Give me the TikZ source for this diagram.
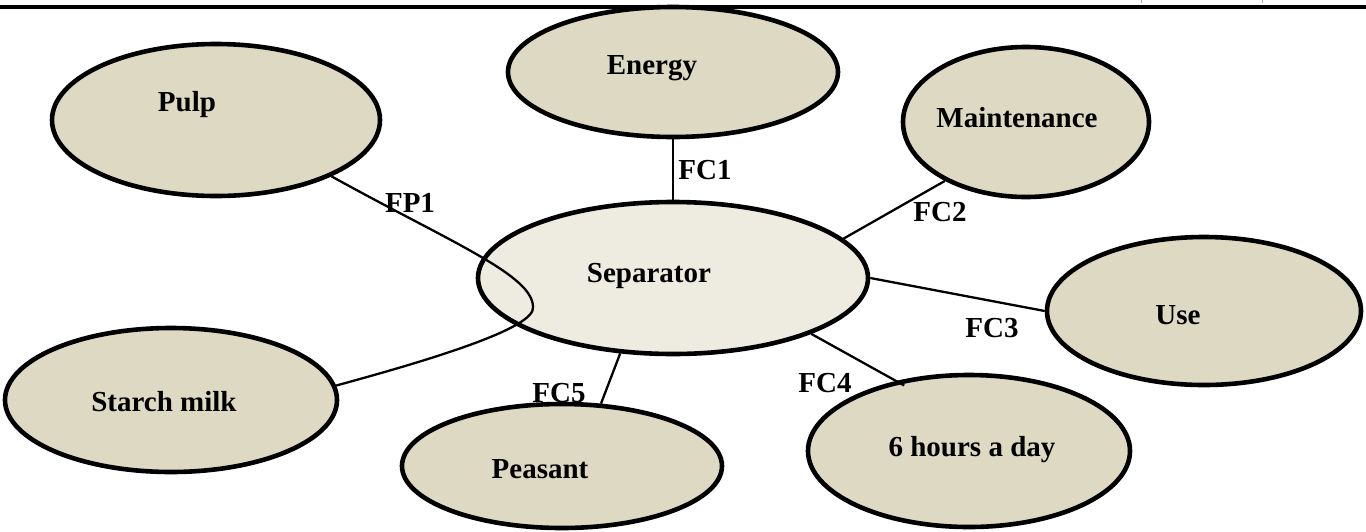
\documentclass[tikz,border=0pt]{standalone}
\usepackage{fontspec}
\setmainfont{Liberation Serif}
\usetikzlibrary{shapes.geometric,calc}
\definecolor{bubblefill}{HTML}{DDD9C3}
\definecolor{centerfill}{HTML}{EEECE1}
\begin{document}
\begin{tikzpicture}[x=0.5pt,y=-0.5pt,
  bubble/.style={ellipse,draw=black,line width=2.3pt,fill=bubblefill,inner sep=0pt},
  lbl/.style={font=\fontsize{14.5}{17}\selectfont\bfseries,inner sep=0pt},
  link/.style={line width=1.15pt}]
\useasboundingbox (0,0) rectangle (1366,531);
% top rule
\coordinate (ruleL) at (0,6.8);
\coordinate (ruleR) at (1366,6.8);
\draw[line width=1.75pt] (ruleL) -- (ruleR);
\coordinate (tickA) at (1141,0);
\coordinate (tickB) at (1262,0);
\draw[gray!60,line width=0.4pt] (tickA) -- ++(0,3);
\draw[gray!60,line width=0.4pt] (tickB) -- ++(0,3);
% label hidden partly by Peasant
\node[lbl] (lfc5) at (559,393) {FC5};
% ellipses
\node[bubble,minimum width=164pt,minimum height=76pt] (pulp) at (216,120) {};
\node[bubble,minimum width=165pt,minimum height=65pt] (energy) at (673,72) {};
\node[bubble,minimum width=123pt,minimum height=75pt] (maint) at (1026,122) {};
\node[bubble,fill=centerfill,minimum width=195pt,minimum height=76pt] (sep) at (673,278) {};
\node[bubble,minimum width=157pt,minimum height=74pt] (use) at (1204,311) {};
\node[bubble,minimum width=166pt,minimum height=72pt] (starch) at (171,400) {};
\node[bubble,minimum width=160pt,minimum height=62pt] (peasant) at (562,466) {};
\node[bubble,minimum width=161pt,minimum height=76pt] (hours) at (969,451) {};
% texts
\node[lbl] (tpulp) at (187,105) {Pulp};
\node[lbl] (tenergy) at (652,68) {Energy};
\node[lbl] (tmaint) at (1017,118) {Maintenance};
\node[lbl] (tsep) at (649,276) {Separator};
\node[lbl] (tuse) at (1178,315) {Use};
\node[lbl] (tstarch) at (164,402) {Starch milk};
\node[lbl] (tpeasant) at (540,469) {Peasant};
\node[lbl] (thours) at (972,450) {6 hours a day};
% connectors
\draw[link] (energy.south) -- (sep.north);
\draw[link] (sep.13.8) -- (maint.-144);
\draw[link] (sep.east) -- (use.west);
\draw[link] (sep.-22) -- ([shift={(3.9pt,-2.3pt)}]hours.136);
\draw[link] (sep.-125) -- (peasant.58);
\draw[link] (pulp.-26) .. controls (450,242) and (533,275) .. (533,307)
                      .. controls (536,328) and (430,360) .. (starch.5);
% connector labels
\node[lbl] (lfc1) at (705,170) {FC1};
\node[lbl] (lfc2) at (940,212) {FC2};
\node[lbl] (lfc3) at (992,328) {FC3};
\node[lbl] (lfc4) at (825,383) {FC4};
\node[lbl] (lfp1) at (410,203) {FP1};
\end{tikzpicture}
\end{document}
